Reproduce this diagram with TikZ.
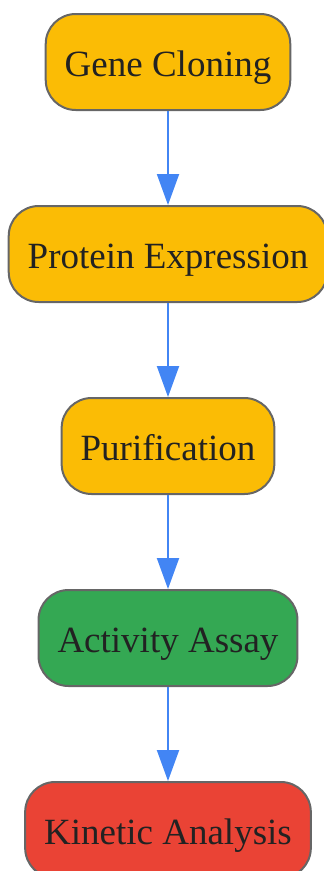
\documentclass[tikz,border=0pt]{standalone}
\usepackage{fontspec}
\setmainfont{Liberation Serif}
\usetikzlibrary{positioning,arrows.meta}
\definecolor{stepyellow}{HTML}{FBBC05}
\definecolor{stepgreen}{HTML}{34A853}
\definecolor{stepred}{HTML}{EA4335}
\definecolor{flowblue}{HTML}{4285F4}
\definecolor{edgegray}{HTML}{666666}
\definecolor{textgray}{HTML}{222222}

\begin{document}
\begin{tikzpicture}[
        stepbox/.style={draw=edgegray,line width=2pt,rounded corners=30pt,minimum height=96pt,
            inner xsep=19pt,text height=28pt,text depth=0pt,text=textgray,font=\fontsize{37}{42}\selectfont},
        flow/.style={draw=flowblue,line width=2pt,-{Triangle[length=31pt,width=22pt]}}
    ]
        \useasboundingbox (0,0) rectangle (324pt,-871pt); % fixes the page size
        \node[stepbox,fill=stepyellow] (cloning) at (168pt,-62pt) {Gene Cloning};
        \node[stepbox,fill=stepyellow,below=94pt of cloning] (expression) {Protein Expression};
        \node[stepbox,fill=stepyellow,below=94pt of expression] (purification) {Purification};
        \node[stepbox,fill=stepgreen,below=94pt of purification] (assay) {Activity Assay};
        \node[stepbox,fill=stepred,below=94pt of assay] (kinetics) {Kinetic Analysis};
        % arrows top to bottom
        \draw[flow] (cloning) -- (expression);
        \draw[flow] (expression) -- (purification);
        \draw[flow] (purification) -- (assay);
        \draw[flow] (assay) -- (kinetics);
    \end{tikzpicture}
\end{document}
